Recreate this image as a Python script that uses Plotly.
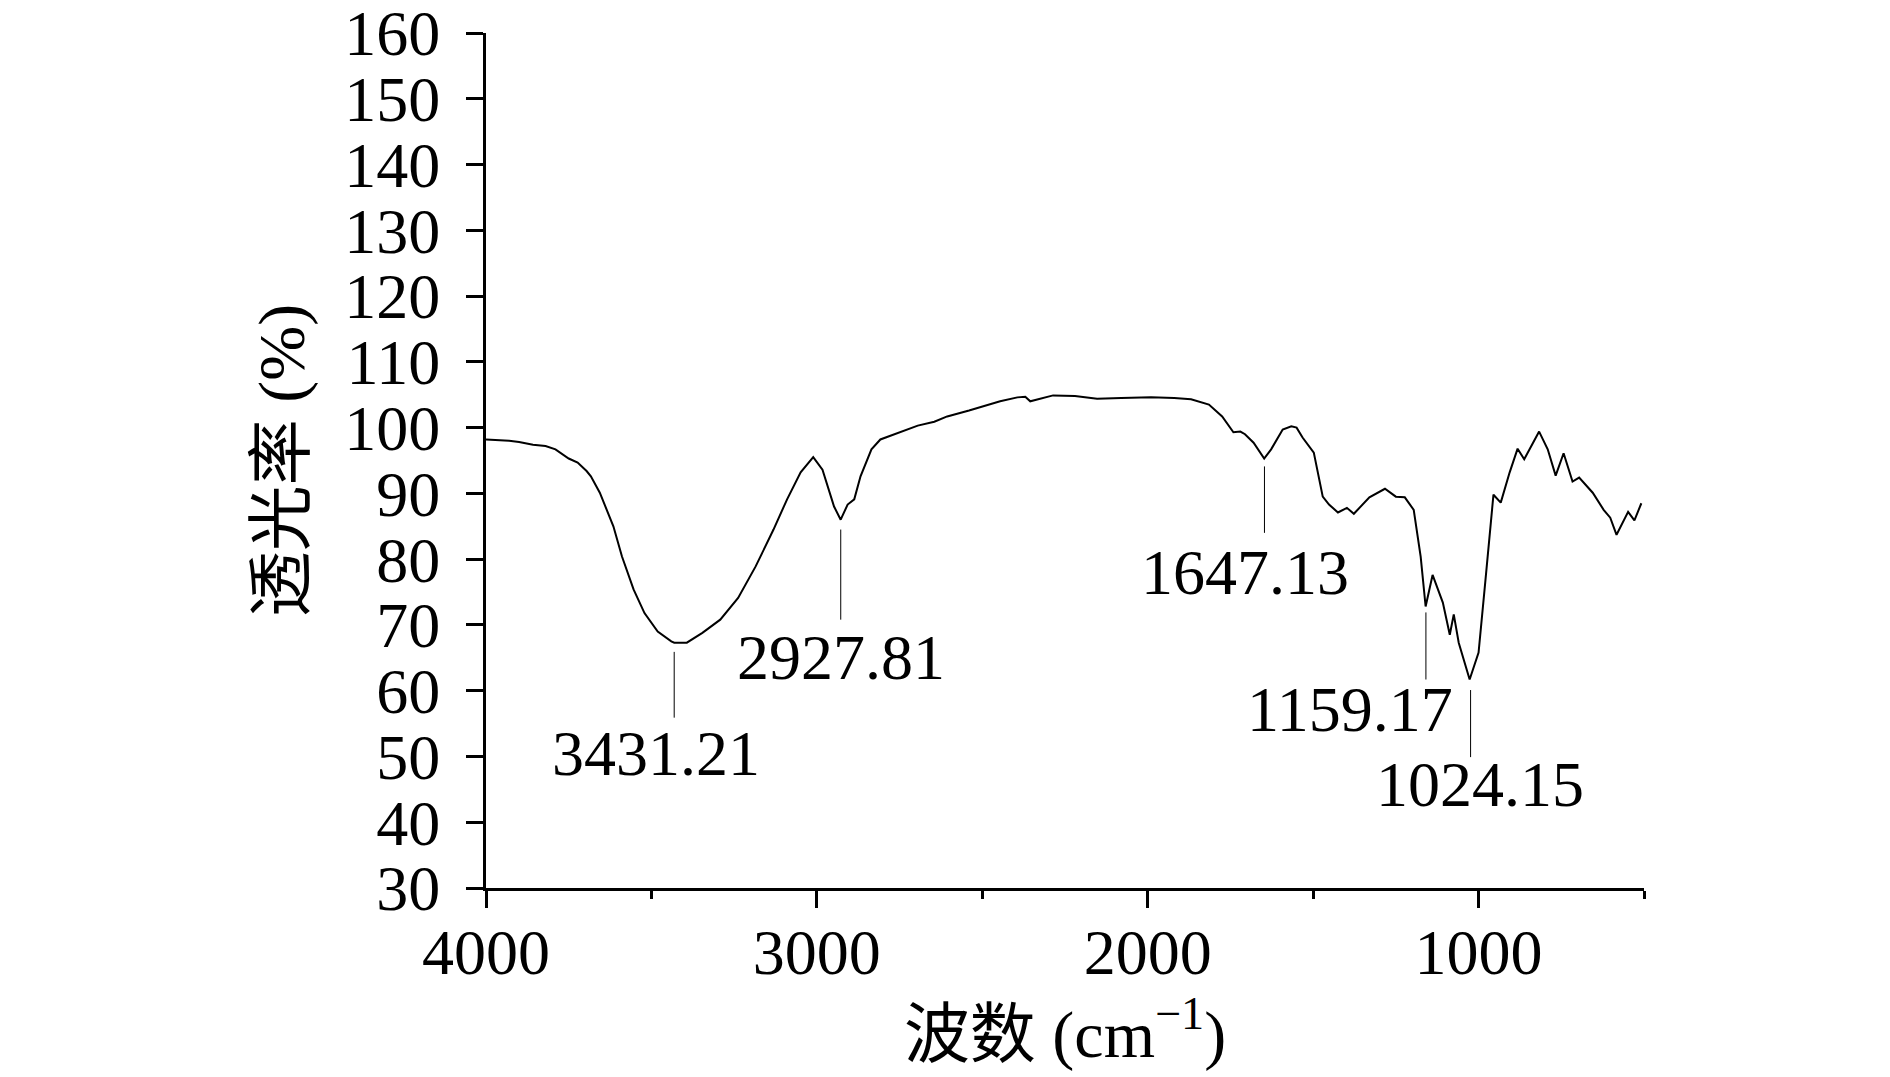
import plotly.graph_objects as go

# ---- data -------------------------------------------------------------
wavenumber = [4000, 3930, 3900, 3858, 3820, 3790, 3750, 3723, 3696, 3683, 3656, 3615, 3589,
              3554, 3521, 3481, 3440, 3431, 3393, 3346, 3292, 3238, 3185, 3131, 3090,
              3049, 3011, 2983, 2948, 2928, 2907, 2887, 2868, 2835, 2808, 2750, 2695,
              2645, 2606, 2540, 2446, 2394, 2370, 2355, 2330, 2286, 2220, 2153, 2080,
              1990, 1920, 1869, 1815, 1775, 1741, 1720, 1706, 1680, 1648, 1627, 1592,
              1566, 1550, 1532, 1498, 1471, 1452, 1425, 1398, 1377, 1330, 1283, 1250,
              1223, 1196, 1175, 1160, 1139, 1108, 1087, 1075, 1060, 1027, 1000, 980,
              955, 933, 906, 882, 862, 817, 791, 767, 743, 716, 696, 655, 622, 602,
              583, 548, 529, 508]
transmittance = [98.2, 98.0, 97.8, 97.4, 97.2, 96.7, 95.3, 94.7, 93.4, 92.6, 90.1, 85.0, 80.4,
                 75.4, 71.8, 69.0, 67.5, 67.3, 67.3, 68.8, 70.8, 74.1, 78.9, 84.5, 89.1,
                 93.2, 95.5, 93.6, 88.0, 86.0, 88.3, 89.1, 92.6, 96.7, 98.2, 99.3, 100.3,
                 100.9, 101.7, 102.6, 104.0, 104.6, 104.7, 104.0, 104.3, 104.9, 104.8, 104.4, 104.5,
                 104.6, 104.5, 104.3, 103.5, 101.7, 99.3, 99.4, 99.0, 97.7, 95.3, 96.7, 99.7,
                 100.2, 100.0, 98.5, 96.2, 89.5, 88.3, 87.1, 87.8, 86.9, 89.4, 90.7, 89.5,
                 89.4, 87.5, 80.4, 72.8, 77.6, 73.4, 68.5, 71.6, 67.3, 61.7, 65.8, 76.4,
                 89.8, 88.6, 93.2, 96.8, 95.2, 99.4, 96.7, 92.7, 96.1, 91.8, 92.4, 90.1, 87.5, 86.3,
                 83.7, 87.2, 85.9, 88.5]

peak_labels = ["3431.21", "2927.81", "1647.13", "1159.17", "1024.15"]
peak_wn = [3431.21, 2927.81, 1647.13, 1159.17, 1024.15]
peak_line_top = [65.9, 84.5, 94.1, 71.9, 60.1]
peak_line_bottom = [55.9, 70.8, 84.0, 61.7, 49.9]
label_x = [3487, 2928, 1706, 1389, 997]
label_y = [50.1, 64.7, 77.6, 56.9, 45.4]

x_ticks = [4000, 3000, 2000, 1000]
y_ticks = list(range(30, 161, 10))

# ---- figure -----------------------------------------------------------
FONT = "Times New Roman, Liberation Serif, Noto Sans CJK SC, serif"
FS = 64

fig = go.Figure()
fig.add_trace(go.Scatter(x=wavenumber, y=transmittance, mode="lines",
                         line=dict(color="black", width=2), showlegend=False,
                         hoverinfo="x+y"))

for wn, top, bot in zip(peak_wn, peak_line_top, peak_line_bottom):
    fig.add_shape(type="line", xref="x", yref="y", x0=wn, x1=wn, y0=top, y1=bot,
                  line=dict(color="black", width=1))

for txt, lx, ly in zip(peak_labels, label_x, label_y):
    fig.add_annotation(x=lx, y=ly, xref="x", yref="y", text=txt, showarrow=False,
                       xanchor="center", yanchor="middle", yshift=2,
                       font=dict(family=FONT, size=FS, color="black"))

fig.update_layout(
    width=1890, height=1077, autosize=False,
    margin=dict(l=486, r=246, t=33, b=189),
    paper_bgcolor="white", plot_bgcolor="white",
    font=dict(family=FONT, size=FS, color="black"),
    xaxis=dict(range=[4000, 500], tickvals=x_ticks, ticktext=[str(v) for v in x_ticks],
               showgrid=False, zeroline=False, showline=True, linecolor="black",
               linewidth=3, ticks="outside", ticklen=17, tickwidth=3, tickcolor="black",
               minor=dict(dtick=500, tick0=500, ticks="outside", ticklen=8, tickwidth=3,
                          tickcolor="black", showgrid=False),
               tickfont=dict(family=FONT, size=FS), ticklabelstandoff=-11,
               ticklabeloverflow="allow", automargin=False,
               title=dict(text="波数 (cm<sup>−1</sup>)", standoff=23,
                          font=dict(family=FONT, size=66))),
    yaxis=dict(range=[30, 160.001], tickvals=y_ticks, showgrid=False, zeroline=False,
               showline=True, linecolor="black", linewidth=3, ticks="outside",
               ticklen=17, tickwidth=3, tickcolor="black",
               tickfont=dict(family=FONT, size=FS), ticklabelstandoff=13,
               ticklabeloverflow="allow", automargin=False,
               title=dict(text="透光率 (%)", standoff=19,
                          font=dict(family=FONT, size=66))),
)

fig.write_html("out.html", config={"displayModeBar": False},
               post_script="document.body.style.margin='0px';")
